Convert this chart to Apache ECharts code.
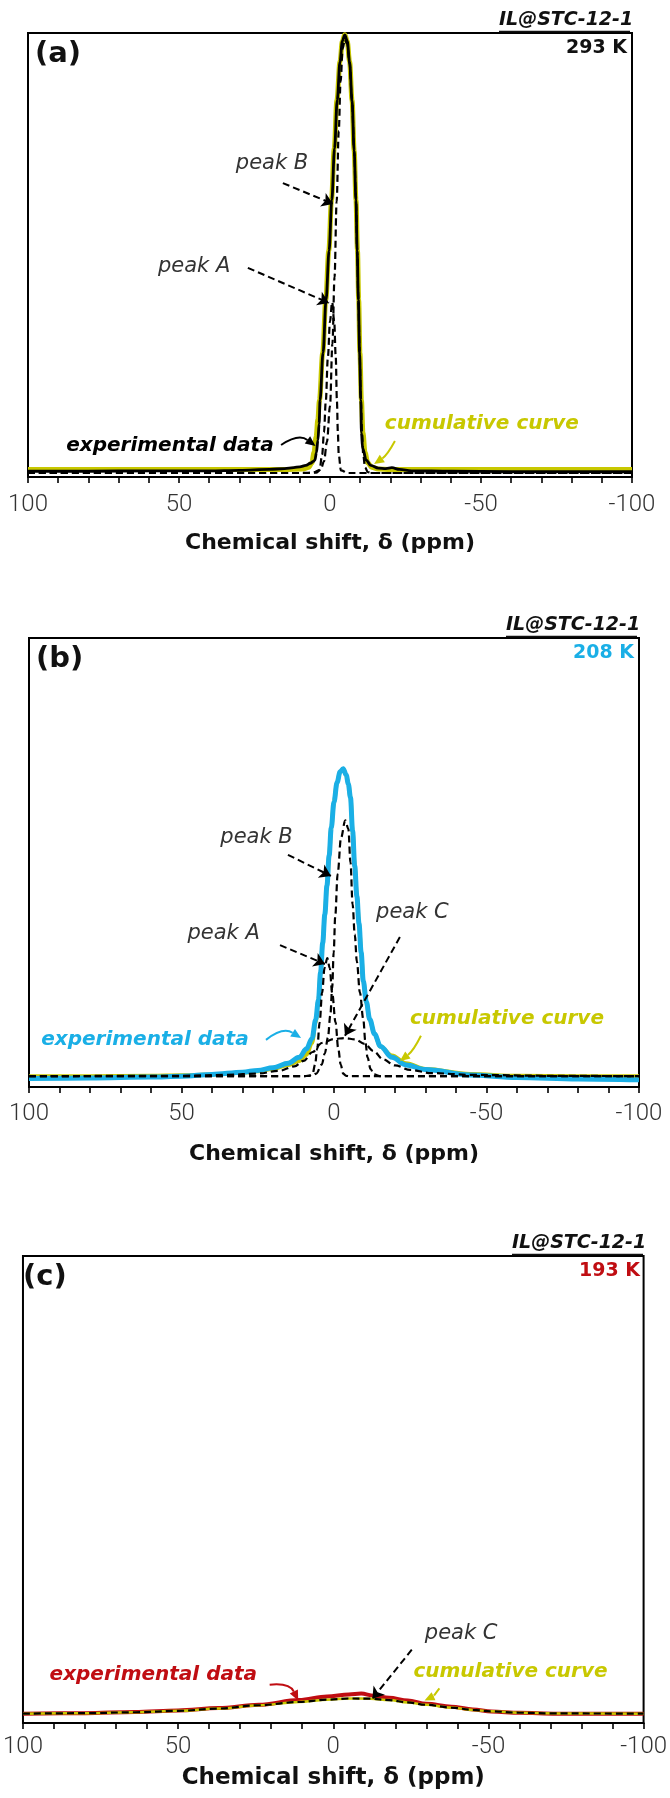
<!DOCTYPE html>
<html><head><meta charset="utf-8">
<script src="https://cdn.jsdelivr.net/npm/echarts@6/dist/echarts.min.js"></script>
<style>html,body{margin:0;padding:0;background:#fff}#c{width:670px;height:1798px}</style>
</head><body><div id="c"></div>
<script>
// ---------- axis ----------
const xMin = -100, xMax = 100, xStep = 10;
const xLabelTicks = [100, 50, 0, -50, -100];
const xTitle = 'Chemical shift, \u03b4 (ppm)';
const sampleName = 'IL@STC-12-1';
const temps = ['293 K', '208 K', '193 K'];
const panelTags = ['(a)', '(b)', '(c)'];

// ---------- panel (a) 293 K : [ppm, intensity %] ----------
const expA = [[100,1.3],[80,1.3],[60,1.4],[40,1.4],[30,1.5],[20,1.7],[15,1.9],[12,2.1],[10,2.3],[8,2.6],[6.5,3.1],[5.5,3.5],[5,3.8],[4.5,5.5],[4,8.3],[3.6,12],[3.3,17.3],[2.3,28],[1.3,39.9],[0.3,51],[-0.6,62.4],[-1.5,74],[-2.4,84.9],[-3.3,93.5],[-4.1,98.2],[-4.9,99.6],[-5.7,98.2],[-6.5,93.5],[-7.3,84.9],[-8.0,73.5],[-8.6,62.4],[-9.0,51],[-9.4,39.9],[-9.8,28],[-10.2,17.3],[-10.4,10],[-10.8,6.5],[-12,3.8],[-13.5,2.6],[-16,2.0],[-18.5,1.9],[-20.5,2.1],[-23,1.7],[-27,1.4],[-40,1.3],[-60,1.2],[-80,1.2],[-100,1.2]];
const cumA = [[100,1.7],[60,1.7],[30,1.7],[15,1.7],[9,1.8],[7,2.2],[6,3.2],[5.3,5.5],[4.6,9],[4,13],[3.5,17.3],[2.4,28],[1.4,39.9],[0.4,51],[-0.5,62.4],[-1.4,74],[-2.3,84.9],[-3.3,93.5],[-4.1,98.2],[-4.9,99.6],[-5.7,98.2],[-6.5,93.5],[-7.3,84.9],[-8.0,73.5],[-8.6,62.4],[-9.1,51],[-9.5,39.9],[-9.9,28],[-10.4,17.3],[-10.9,10],[-11.6,5.5],[-12.5,3.2],[-13.8,2.2],[-16,1.8],[-20,1.7],[-60,1.7],[-100,1.7]];
const peakA_a = [[100,0.9],[20,0.9],[6,0.9],[3.5,1.5],[2.6,5],[2.0,10],[1.4,17],[0.7,27],[0,35],[-0.7,39.4],[-1.4,35],[-1.9,27],[-2.3,17],[-2.6,10],[-2.9,5],[-3.6,1.5],[-6,0.9],[-100,0.9]];
const peakB_a = [[100,0.9],[10,0.9],[4.5,1.0],[3,1.8],[2,3.5],[1,8],[0,16],[-0.8,30],[-1.5,45],[-2.2,62],[-2.9,78],[-3.5,89],[-4.2,96.5],[-4.9,98.5],[-5.7,97.5],[-6.5,93],[-7.3,84.5],[-8.0,73.5],[-8.6,62.4],[-9.0,51],[-9.4,39.9],[-9.8,28],[-10.2,17.3],[-10.6,10],[-11,5],[-11.6,2.2],[-12.5,1.1],[-14,0.9],[-100,0.9]];

// ---------- panel (b) 208 K ----------
const expB = [[100,1.9],[80,2.0],[60,2.2],[50,2.4],[40,2.8],[30,3.3],[25,3.7],[20,4.3],[15,5.3],[11.4,6.6],[9,8.5],[7.2,10.8],[6,15],[5.1,19.4],[4.4,25.5],[3.7,32.1],[3,38.5],[2.3,44.9],[1.6,51.5],[0.9,57.7],[0,63.5],[-1,67.8],[-2,70.2],[-3,70.9],[-4,69.5],[-4.7,67.5],[-5.4,64.5],[-6.1,57],[-6.8,49.2],[-7.5,42.5],[-8.2,36.4],[-8.9,30],[-9.6,23.6],[-10.6,19],[-11.7,15.1],[-13.3,11.8],[-15.2,9.1],[-19,6.6],[-23.6,4.9],[-30,3.9],[-44.6,2.7],[-60,2.1],[-80,1.8],[-100,1.6]];
const cumB = [[100,2.4],[80,2.4],[60,2.5],[50,2.6],[40,2.8],[30,3.2],[25,3.5],[20,4.0],[15,4.9],[11.4,5.8],[9,7.2],[7.2,9.8],[6,14.5],[5.1,19.4],[4.4,25.5],[3.7,32.1],[3,38.5],[2.3,44.9],[1.6,51.5],[0.9,57.7],[0,63.5],[-1,67.8],[-2,70.2],[-3,70.9],[-4,69.5],[-4.7,67.5],[-5.4,64.5],[-6.1,57],[-6.8,49.2],[-7.5,42.5],[-8.2,36.4],[-8.9,30],[-9.6,23.6],[-10.6,18.8],[-11.7,15],[-13.3,11.8],[-15.2,9.0],[-19,7.0],[-23.6,5.3],[-30,4.0],[-44.6,2.9],[-60,2.5],[-80,2.4],[-100,2.4]];
const peakA_b = [[100,2.4],[10,2.4],[8,2.5],[7,3],[6.2,5],[5.5,8.5],[4.7,14.4],[3.9,21],[3.1,26.5],[2.2,28.7],[1.4,26.5],[0.6,21],[-0.5,14.4],[-1.4,8.5],[-2.2,5],[-3,3],[-4,2.5],[-5,2.4],[-100,2.4]];
const peakB_b = [[100,2.4],[10,2.4],[7,2.6],[5.8,3],[4,5],[3,7.5],[2,11],[1.2,16],[0.6,22],[0.1,30],[-0.4,38],[-1.2,47.5],[-2.3,55.5],[-3.7,59.4],[-4.7,57.5],[-5.4,50],[-6.1,40.7],[-6.8,34],[-7.5,27.9],[-8.5,21],[-9.6,15.1],[-10.3,10],[-11,6.6],[-12,4],[-13.1,2.8],[-15,2.4],[-100,2.4]];
const peakC_b = [[100,2.4],[50,2.5],[35,2.7],[25,3.0],[18,3.6],[13,4.6],[10,5.8],[7,7.8],[4,9.8],[0,10.7],[-3.5,10.9],[-7,10.6],[-10,9.6],[-13,8.0],[-16,6.2],[-20,4.8],[-25,3.8],[-32,3.1],[-45,2.7],[-70,2.5],[-100,2.4]];

// ---------- panel (c) 193 K ----------
const expC = [[100,2.0],[80,2.1],[64,2.35],[50,2.7],[37,3.2],[24,3.9],[11,4.9],[2,5.7],[-5,6.1],[-9,6.3],[-13,5.85],[-18,5.4],[-24,4.8],[-30,4.1],[-38,3.5],[-45,2.9],[-51,2.45],[-60,2.2],[-72,2.0],[-100,2.0]];
const peakC_c = [[100,2.0],[80,2.1],[64,2.3],[50,2.6],[37,3.1],[24,3.8],[11,4.5],[2,5.0],[-5,5.25],[-12,5.2],[-18,4.9],[-24,4.4],[-30,3.9],[-38,3.3],[-45,2.8],[-51,2.5],[-60,2.2],[-72,2.05],[-100,2.0]];
const cumC = [[100,2.0],[80,2.1],[64,2.3],[50,2.6],[37,3.1],[24,3.8],[11,4.5],[2,5.0],[-5,5.25],[-12,5.2],[-18,4.9],[-24,4.4],[-30,3.9],[-38,3.3],[-45,2.8],[-51,2.5],[-60,2.2],[-72,2.05],[-100,2.0]];

// ---------- annotations (data coordinates) ----------
const labelsA = [['peak B',19.2,70.5,'peak'],['peak A',45,47.5,'peak'],['experimental data',53,7.0,'exp'],['cumulative curve',-50.3,11.9,'cum']];
const arrowsA = [[15.6,66.2,-1.0,61.5,'peak'],[27.2,47.1,0.33,39.2,'peak'],[16.2,7.2,4.8,7.0,'exp'],[-21.5,8.1,-14.6,2.9,'cum']];
const labelsB = [['peak B',25.4,55.6,'peak'],['peak A',36.2,34.1,'peak'],['peak C',-25.7,38.8,'peak'],['experimental data',62,10.5,'exp'],['cumulative curve',-56.7,15.1,'cum']];
const arrowsB = [[15.1,51.7,1.0,47.0,'peak'],[17.7,31.6,2.95,27.4,'peak'],[-21.6,33.4,-3.6,11.4,'peak'],[22.3,10.5,10.8,10.9,'exp'],[-28.5,11.4,-21.6,5.8,'cum']];
const labelsC = [['peak C',-41.2,19.1,'peak'],['experimental data',58,10.4,'exp'],['cumulative curve',-57.1,11.0,'cum']];
const arrowsC = [[-25.3,15.7,-12.6,5.2,'peak'],[20.5,8.2,11.3,4.8,'exp'],[-34.2,7.4,-29.4,4.8,'cum']];

// ---------- styles ----------
const YEL = '#c8c800', BLUE = '#1aafe6', RED = '#c00d12', BLK = '#000';
const FONT = 'DejaVu Sans';
const TICKFONT = "'Liberation Sans Narrow', 'Roboto', sans-serif";
const grids = [
  {left: 28, top: 33, width: 604, height: 444},
  {left: 29, top: 638, width: 610, height: 449},
  {left: 16, top: 1256, width: 629, height: 467}
];
const nameGaps = [55, 56, 44];
const labelMargins = [16, 15, 12];
const expColors = [BLK, BLUE, RED];
const curveOf = {peak: 0, exp: 0.35, cum: 0.12};

function xAxis(i) {
  return {
    gridIndex: i, type: 'value', min: xMin, max: xMax, interval: xStep, inverse: true,
    axisLine: {show: true, lineStyle: {color: '#000', width: 2}},
    axisTick: {show: true, inside: false, length: 6, lineStyle: {color: '#000', width: 1.6}},
    splitLine: {show: false},
    axisLabel: {
      margin: labelMargins[i], fontSize: 24, fontWeight: 300, fontFamily: TICKFONT, color: '#333',
      showMinLabel: true, showMaxLabel: true,
      formatter: v => xLabelTicks.indexOf(v) >= 0 ? String(v) : ''
    },
    name: xTitle, nameLocation: 'middle', nameGap: nameGaps[i],
    nameTextStyle: {fontSize: i === 2 ? 23 : 22, fontWeight: 'bold', fontFamily: FONT, color: '#111'}
  };
}
function yAxis(i) {
  return {gridIndex: i, type: 'value', min: 0, max: 100, show: false};
}
function line(i, data, color, width, dashed) {
  return {
    type: 'line', xAxisIndex: i, yAxisIndex: i, data: data, showSymbol: false, symbol: 'none',
    smooth: 0.35, smoothMonotone: 'x', silent: true,
    lineStyle: {color: color, width: width, type: dashed ? [7, 4] : 'solid', cap: 'butt'}
  };
}
function annot(i, labels, arrows) {
  const col = {peak: '#333', exp: expColors[i], cum: YEL};
  return [{
    type: 'line', xAxisIndex: i, yAxisIndex: i, data: [], silent: true, z: 10,
    markPoint: {
      silent: true, symbol: 'circle', symbolSize: 1, itemStyle: {color: 'rgba(0,0,0,0)'},
      animation: false,
      data: labels.map(l => ({
        coord: [l[1], l[2]], value: 0,
        label: {
          show: true, position: 'inside', formatter: l[0], fontFamily: FONT,
          fontSize: l[3] === 'peak' ? 21 : 20, fontStyle: 'italic',
          fontWeight: l[3] === 'peak' ? 200 : 'bold', color: col[l[3]]
        }
      }))
    },
    markLine: {
      silent: true, symbol: ['none', 'arrow'], symbolSize: 11, animation: false,
      label: {show: false},
      itemStyle: {color: '#000'},
      lineStyle: {color: '#000', width: 2, type: [7, 4]},
      data: arrows.filter(a => a[4] === 'peak').map(a => [{coord: [a[0], a[1]]}, {coord: [a[2], a[3]]}])
    }
  }];
}

const series = [
  line(0, cumA, YEL, 5, false),
  line(0, expA, BLK, 2.8, false),
  line(0, peakA_a, BLK, 2.2, true),
  line(0, peakB_a, BLK, 2.2, true),
  ...annot(0, labelsA, arrowsA),
  line(1, cumB, YEL, 4, false),
  line(1, expB, BLUE, 5, false),
  line(1, peakA_b, BLK, 2.2, true),
  line(1, peakB_b, BLK, 2.2, true),
  line(1, peakC_b, BLK, 2.2, true),
  ...annot(1, labelsB, arrowsB),
  line(2, expC, RED, 4, false),
  line(2, cumC, YEL, 2.5, false),
  line(2, peakC_c, BLK, 2.2, true),
  ...annot(2, labelsC, arrowsC)
];

const chart = echarts.init(document.getElementById('c'), null, {renderer: 'canvas'});
chart.setOption({
  animation: false,
  backgroundColor: '#fff',
  grid: grids.map(g => Object.assign({show: true, borderColor: '#000', borderWidth: 2, backgroundColor: 'transparent', containLabel: false}, g)),
  xAxis: [0, 1, 2].map(xAxis),
  yAxis: [0, 1, 2].map(yAxis),
  series: series
});

// header texts + curved solid arrows (positions via the chart's own scales)
const graphic = [];
const tempColors = ['#111', BLUE, RED];
grids.forEach((g, i) => {
  const right = g.left + g.width;
  const nameY = g.top - 11;
  graphic.push({type: 'text', left: right - 2 - 131, top: nameY - 11,
    style: {text: sampleName, font: 'italic bold 19px ' + FONT, fill: '#111'}});
  graphic.push({type: 'line', shape: {x1: right - 133, y1: g.top - 1.5, x2: right - 2, y2: g.top - 1.5},
    style: {stroke: '#111', lineWidth: 1.5}});
  graphic.push({type: 'text', right: 670 - right + 5, top: g.top + 6,
    style: {text: temps[i], font: 'bold 19px ' + FONT, fill: tempColors[i]}});
  graphic.push({type: 'text', left: g.left + 7, top: g.top + 7,
    style: {text: panelTags[i], font: 'bold 29px ' + FONT, fill: '#111'}});
});
[arrowsA, arrowsB, arrowsC].forEach((arr, i) => {
  arr.filter(a => a[4] !== 'peak').forEach(a => {
    const color = a[4] === 'exp' ? expColors[i] : YEL;
    const p1 = chart.convertToPixel({gridIndex: i}, [a[0], a[1]]);
    const p2 = chart.convertToPixel({gridIndex: i}, [a[2], a[3]]);
    const dx = p2[0] - p1[0], dy = p2[1] - p1[1];
    const len = Math.hypot(dx, dy);
    const c = curveOf[a[4]];
    const cp = [(p1[0] + p2[0]) / 2 + dy / len * c * len, (p1[1] + p2[1]) / 2 - dx / len * c * len];
    // tangent at the end
    let tx = p2[0] - cp[0], ty = p2[1] - cp[1];
    const tl = Math.hypot(tx, ty); tx /= tl; ty /= tl;
    const hl = 10, hw = 4.5;
    const base = [p2[0] - tx * hl, p2[1] - ty * hl];
    graphic.push({type: 'bezierCurve', z: 20,
      shape: {x1: p1[0], y1: p1[1], x2: base[0], y2: base[1], cpx1: cp[0], cpy1: cp[1]},
      style: {stroke: color, lineWidth: 2, fill: null}});
    graphic.push({type: 'polygon', z: 20,
      shape: {points: [[p2[0], p2[1]], [base[0] - ty * hw, base[1] + tx * hw], [base[0] + ty * hw, base[1] - tx * hw]]},
      style: {fill: color}});
  });
});
chart.setOption({graphic: graphic});
</script></body></html>
